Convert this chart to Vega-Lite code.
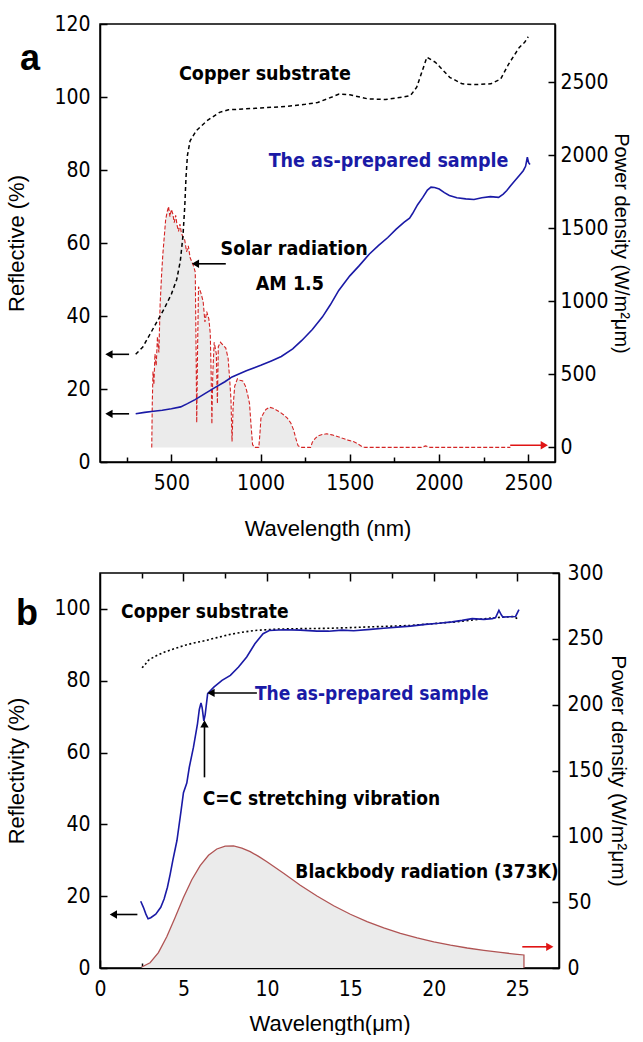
{
  "$schema": "https://vega.github.io/schema/vega-lite/v6.json",
  "padding": {"left": 5, "top": 12, "right": 3, "bottom": 0},
  "spacing": 21,
  "config": {
    "view": {"stroke": "black", "strokeWidth": 1.5},
    "axis": {
      "grid": false, "domainColor": "black", "domainWidth": 1.5, "tickColor": "black", "tickWidth": 1.5,
      "labelFont": "DejaVu Sans Condensed, Liberation Sans, sans-serif", "labelFontSize": 21, "labelColor": "black", "labelFlush": false, "labelOverlap": false,
      "titleFont": "Liberation Sans", "titleFontSize": 22, "titleFontWeight": "normal", "titleColor": "black"
    },
    "text": {"font": "DejaVu Sans Condensed, Liberation Sans, sans-serif", "fontWeight": "bold"}
  },
  "datasets": {
    "solarA": [
      {"w":390,"p":0},{"w":393,"p":300},{"w":397,"p":520},{"w":402,"p":430},{"w":408,"p":640},{"w":415,"p":560},{"w":422,"p":760},{"w":430,"p":650},{"w":437,"p":980},{"w":445,"p":1180},{"w":452,"p":1320},{"w":460,"p":1440},{"w":468,"p":1560},{"w":476,"p":1610},{"w":484,"p":1650},{"w":492,"p":1580},{"w":500,"p":1630},{"w":508,"p":1600},{"w":516,"p":1540},{"w":524,"p":1590},{"w":532,"p":1520},{"w":540,"p":1480},{"w":548,"p":1530},{"w":556,"p":1470},{"w":565,"p":1440},{"w":575,"p":1420},{"w":585,"p":1340},{"w":595,"p":1380},{"w":605,"p":1300},{"w":615,"p":1270},{"w":625,"p":1240},{"w":634,"p":1200},{"w":639,"p":600},{"w":642,"p":170},{"w":646,"p":600},{"w":652,"p":1100},{"w":665,"p":1060},{"w":678,"p":1000},{"w":688,"p":860},{"w":698,"p":930},{"w":710,"p":880},{"w":718,"p":780},{"w":723,"p":500},{"w":727,"p":160},{"w":732,"p":500},{"w":740,"p":720},{"w":752,"p":640},{"w":758,"p":300},{"w":763,"p":690},{"w":775,"p":720},{"w":790,"p":700},{"w":805,"p":680},{"w":818,"p":610},{"w":826,"p":480},{"w":834,"p":330},{"w":840,"p":40},{"w":846,"p":280},{"w":855,"p":420},{"w":870,"p":470},{"w":885,"p":460},{"w":900,"p":455},{"w":915,"p":420},{"w":928,"p":360},{"w":938,"p":300},{"w":946,"p":160},{"w":955,"p":20},{"w":965,"p":0},{"w":990,"p":0},{"w":996,"p":90},{"w":1002,"p":200},{"w":1015,"p":230},{"w":1030,"p":260},{"w":1050,"p":275},{"w":1070,"p":268},{"w":1090,"p":255},{"w":1110,"p":240},{"w":1130,"p":222},{"w":1150,"p":200},{"w":1170,"p":165},{"w":1185,"p":120},{"w":1198,"p":60},{"w":1210,"p":12},{"w":1225,"p":0},{"w":1280,"p":0},{"w":1290,"p":35},{"w":1305,"p":60},{"w":1320,"p":78},{"w":1345,"p":88},{"w":1370,"p":93},{"w":1400,"p":86},{"w":1430,"p":75},{"w":1460,"p":62},{"w":1490,"p":50},{"w":1520,"p":40},{"w":1545,"p":25},{"w":1565,"p":8},{"w":1585,"p":0},{"w":1900,"p":0},{"w":1925,"p":10},{"w":1950,"p":0},{"w":2400,"p":0}
    ],
    "copperA": [
      {"w":300,"r":29.5},{"w":340,"r":31.5},{"w":380,"r":35},{"w":420,"r":38.5},{"w":460,"r":42},{"w":500,"r":46},{"w":530,"r":50},{"w":550,"r":55},{"w":565,"r":62},{"w":575,"r":70},{"w":582,"r":78},{"w":590,"r":84},{"w":605,"r":88},{"w":640,"r":90.8},{"w":700,"r":93.5},{"w":770,"r":95.8},{"w":820,"r":96.5},{"w":900,"r":96.7},{"w":1000,"r":97},{"w":1140,"r":97.4},{"w":1250,"r":98},{"w":1320,"r":98.5},{"w":1400,"r":100},{"w":1440,"r":100.8},{"w":1500,"r":100.6},{"w":1600,"r":99.5},{"w":1700,"r":99.3},{"w":1800,"r":100},{"w":1840,"r":100.4},{"w":1875,"r":102.7},{"w":1905,"r":107},{"w":1932,"r":110.9},{"w":1980,"r":109.5},{"w":2060,"r":105.4},{"w":2130,"r":103.6},{"w":2200,"r":103.4},{"w":2290,"r":103.6},{"w":2345,"r":104.9},{"w":2390,"r":109},{"w":2450,"r":113.6},{"w":2480,"r":115},{"w":2500,"r":116.5}
    ],
    "sampleA": [
      {"w":300,"r":13.2},{"w":350,"r":13.6},{"w":400,"r":13.9},{"w":449,"r":14.2},{"w":500,"r":14.6},{"w":552,"r":15.1},{"w":590,"r":16},{"w":633,"r":17.1},{"w":690,"r":18.8},{"w":748,"r":20.5},{"w":800,"r":22},{"w":840,"r":23.3},{"w":920,"r":25},{"w":1001,"r":26.5},{"w":1060,"r":27.7},{"w":1116,"r":28.9},{"w":1180,"r":31},{"w":1231,"r":33.3},{"w":1290,"r":36.3},{"w":1346,"r":39.7},{"w":1390,"r":43},{"w":1438,"r":47},{"w":1500,"r":51},{"w":1553,"r":53.8},{"w":1610,"r":57},{"w":1660,"r":59.3},{"w":1713,"r":61.5},{"w":1760,"r":63.8},{"w":1805,"r":65.7},{"w":1835,"r":66.8},{"w":1851,"r":68},{"w":1880,"r":70.5},{"w":1909,"r":72.5},{"w":1935,"r":74.5},{"w":1955,"r":75.3},{"w":1975,"r":75.2},{"w":2001,"r":74.8},{"w":2030,"r":73.8},{"w":2058,"r":73},{"w":2100,"r":72.4},{"w":2150,"r":72.1},{"w":2196,"r":71.9},{"w":2240,"r":72.4},{"w":2288,"r":72.7},{"w":2334,"r":72.5},{"w":2360,"r":73.4},{"w":2380,"r":74.4},{"w":2400,"r":75.6},{"w":2426,"r":77.1},{"w":2450,"r":78.5},{"w":2472,"r":79.8},{"w":2485,"r":81},{"w":2495,"r":83.5},{"w":2502,"r":82},{"w":2510,"r":81.5}
    ],
    "textA": [
      {"x":1024,"y":106.3,"t":"Copper substrate","c":"k"},
      {"x":1717,"y":82.5,"t":"The as-prepared sample","c":"b"},
      {"x":1188,"y":58.4,"t":"Solar radiation","c":"k"},
      {"x":1164,"y":48.8,"t":"AM 1.5","c":"k"}
    ],
    "labelA": [{"x":-292,"y":110.4,"t":"a"}],
    "arrowsA": [
      {"x":263,"y":29.5,"x2":150,"y2":29.5,"c":"k","d":"left"},
      {"x":263,"y":13.2,"x2":150,"y2":13.2,"c":"k","d":"left"},
      {"x":805,"y":54.3,"x2":635,"y2":54.3,"c":"k","d":"left"},
      {"x":2399,"y":4.6,"x2":2590,"y2":4.6,"c":"r","d":"right"}
    ],
    "bbB": [
      {"w":2.5,"p":0.76},{"w":3,"p":4.0},{"w":3.5,"p":11.65},{"w":4,"p":23.7},{"w":4.5,"p":38.4},{"w":5,"p":53.5},{"w":5.5,"p":67.0},{"w":6,"p":77.8},{"w":6.5,"p":85.6},{"w":7,"p":90.4},{"w":7.5,"p":92.6},{"w":8,"p":92.7},{"w":8.5,"p":91.1},{"w":9,"p":88.4},{"w":9.5,"p":84.8},{"w":10,"p":80.7},{"w":11,"p":71.9},{"w":12,"p":62.9},{"w":13,"p":54.7},{"w":14,"p":47.3},{"w":15,"p":40.8},{"w":16,"p":35.2},{"w":17,"p":30.4},{"w":18,"p":26.3},{"w":19,"p":22.8},{"w":20,"p":19.9},{"w":21,"p":17.4},{"w":22,"p":15.2},{"w":23,"p":13.4},{"w":24,"p":11.8},{"w":25,"p":10.4},{"w":25.4,"p":9.9},{"w":25.4,"p":0}
    ],
    "copperB": [
      {"w":2.52,"r":83.6},{"w":2.7,"r":84.5},{"w":2.9,"r":85.7},{"w":3.3,"r":86.8},{"w":3.87,"r":88},{"w":4.5,"r":89},{"w":5.1,"r":89.9},{"w":5.7,"r":90.6},{"w":6.33,"r":91.2},{"w":7.0,"r":92},{"w":7.8,"r":92.9},{"w":8.5,"r":93.5},{"w":9.28,"r":94},{"w":10.75,"r":94.4},{"w":12,"r":94.5},{"w":13.7,"r":94.6},{"w":15,"r":94.8},{"w":16.2,"r":95},{"w":17.5,"r":95.2},{"w":18.6,"r":95.4},{"w":20,"r":95.9},{"w":21.1,"r":96.3},{"w":22.3,"r":96.9},{"w":23.5,"r":97.5},{"w":24.2,"r":97.7},{"w":24.8,"r":97.9},{"w":25.1,"r":97}
    ],
    "sampleB": [
      {"w":2.44,"r":18.6},{"w":2.6,"r":16.9},{"w":2.75,"r":15},{"w":2.88,"r":13.7},{"w":3.04,"r":14},{"w":3.34,"r":15},{"w":3.64,"r":16.9},{"w":3.84,"r":19.2},{"w":4.04,"r":22.5},{"w":4.2,"r":26},{"w":4.36,"r":29.9},{"w":4.61,"r":35.5},{"w":4.86,"r":43.9},{"w":5.0,"r":48.8},{"w":5.2,"r":51.5},{"w":5.35,"r":55.9},{"w":5.6,"r":61.5},{"w":5.84,"r":68},{"w":5.95,"r":72},{"w":6.05,"r":73.8},{"w":6.12,"r":72.5},{"w":6.22,"r":68.8},{"w":6.3,"r":70.5},{"w":6.45,"r":76.4},{"w":6.82,"r":78.2},{"w":7.31,"r":80.1},{"w":7.81,"r":81.5},{"w":8.3,"r":83.8},{"w":8.79,"r":86.6},{"w":9.28,"r":90.3},{"w":9.77,"r":93.1},{"w":10.14,"r":94},{"w":11,"r":94.2},{"w":12,"r":94.1},{"w":13,"r":93.8},{"w":13.7,"r":93.8},{"w":14.5,"r":94.1},{"w":15.2,"r":93.9},{"w":16.2,"r":94.3},{"w":17,"r":94.6},{"w":18,"r":95},{"w":18.6,"r":95.2},{"w":19.5,"r":95.7},{"w":20.3,"r":96},{"w":21.1,"r":96.4},{"w":21.7,"r":96.8},{"w":22.3,"r":97.3},{"w":23,"r":97.1},{"w":23.5,"r":97.3},{"w":23.7,"r":97.6},{"w":23.9,"r":99.6},{"w":24.05,"r":98.3},{"w":24.14,"r":97.7},{"w":24.5,"r":97.8},{"w":24.9,"r":97.9},{"w":25.1,"r":99.8}
    ],
    "textB": [
      {"x":6.28,"y":99.1,"t":"Copper substrate","c":"k"},
      {"x":16.28,"y":76.4,"t":"The as-prepared sample","c":"b"},
      {"x":13.27,"y":47.1,"t":"C=C stretching vibration","c":"k"},
      {"x":19.59,"y":26.6,"t":"Blackbody radiation (373K)","c":"k"}
    ],
    "labelB": [{"x":-4.37,"y":98.7,"t":"b"}],
    "arrowsB": [
      {"x":2.24,"y":14.9,"x2":0.8,"y2":14.9,"c":"k","d":"left"},
      {"x":9.4,"y":76.6,"x2":6.65,"y2":76.6,"c":"k","d":"left"},
      {"x":6.26,"y":53.1,"x2":6.26,"y2":68.0,"c":"k","d":"up"},
      {"x":25.3,"y":5.9,"x2":26.95,"y2":5.9,"c":"r","d":"right"}
    ]
  },
  "vconcat": [
    {
      "width": 455, "height": 438,
      "resolve": {"scale": {"y": "independent"}},
      "layer": [
        {
          "layer": [
            {
              "data": {"name": "solarA"},
              "mark": {"type": "area", "color": "#ebebeb"},
              "encoding": {
                "x": {"field": "w", "type": "quantitative", "scale": {"domain": [100, 2650], "nice": false, "zero": false}},
                "y": {"field": "p", "type": "quantitative", "scale": {"domain": [-100, 2900], "nice": false, "zero": false},
                  "axis": {"orient": "right", "title": "Power density (W/m²μm)", "titleFontSize": 20, "format": "d",
                    "values": [0,250,500,750,1000,1250,1500,1750,2000,2250,2500,2750],
                    "labelExpr": "datum.value % 500 === 0 ? datum.label : ''",
                    "tickSize": {"condition": {"test": "datum.value % 500 === 0", "value": -7}, "value": -4},
                    "labelPadding": 12, "titlePadding": 2}},
                "y2": {"datum": 0}
              }
            },
            {
              "data": {"name": "solarA"},
              "mark": {"type": "line", "color": "#d42424", "strokeWidth": 1.1, "strokeDash": [4, 2]},
              "encoding": {
                "x": {"field": "w", "type": "quantitative", "scale": {"domain": [100, 2650], "nice": false, "zero": false}},
                "y": {"field": "p", "type": "quantitative", "scale": {"domain": [-100, 2900], "nice": false, "zero": false}}
              }
            }
          ]
        },
        {
          "layer": [
            {
              "data": {"name": "copperA"},
              "mark": {"type": "line", "color": "black", "strokeWidth": 1.5, "strokeDash": [4, 3]},
              "encoding": {
                "x": {"field": "w", "type": "quantitative", "scale": {"domain": [100, 2650], "nice": false, "zero": false},
                  "axis": {"orient": "bottom", "title": "Wavelength (nm)", "format": "d",
                    "values": [250,500,750,1000,1250,1500,1750,2000,2250,2500],
                    "labelExpr": "datum.value % 500 === 0 ? datum.label : ''",
                    "tickSize": {"condition": {"test": "datum.value % 500 === 0", "value": -8}, "value": -5},
                    "labelPadding": 18, "titlePadding": 22}},
                "y": {"field": "r", "type": "quantitative", "scale": {"domain": [0, 120], "nice": false, "zero": false},
                  "axis": {"orient": "left", "title": "Reflective (%)", "format": "d",
                    "values": [0,10,20,30,40,50,60,70,80,90,100,110,120],
                    "labelExpr": "datum.value % 20 === 0 ? datum.label : ''",
                    "tickSize": {"condition": {"test": "datum.value % 20 === 0", "value": -7}, "value": -4},
                    "labelPadding": 17, "titlePadding": 25}}
              }
            },
            {
              "data": {"name": "sampleA"},
              "mark": {"type": "line", "color": "#1a1aa6", "strokeWidth": 1.6},
              "encoding": {
                "x": {"field": "w", "type": "quantitative", "scale": {"domain": [100, 2650], "nice": false, "zero": false}},
                "y": {"field": "r", "type": "quantitative", "scale": {"domain": [0, 120], "nice": false, "zero": false}}
              }
            },
            {
              "data": {"name": "arrowsA"},
              "mark": {"type": "rule", "strokeWidth": 1.6},
              "encoding": {
                "x": {"field": "x", "type": "quantitative", "scale": {"domain": [100, 2650], "nice": false, "zero": false}},
                "x2": {"field": "x2"},
                "y": {"field": "y", "type": "quantitative", "scale": {"domain": [0, 120], "nice": false, "zero": false}},
                "y2": {"field": "y2"},
                "color": {"field": "c", "type": "nominal", "scale": {"domain": ["k", "b", "r"], "range": ["black", "#1a1aa6", "#e01414"]}, "legend": null}
              }
            },
            {
              "data": {"name": "arrowsA"},
              "mark": {"type": "point", "filled": true, "opacity": 1, "size": 70},
              "encoding": {
                "x": {"field": "x2", "type": "quantitative", "scale": {"domain": [100, 2650], "nice": false, "zero": false}},
                "y": {"field": "y2", "type": "quantitative", "scale": {"domain": [0, 120], "nice": false, "zero": false}},
                "shape": {"field": "d", "type": "nominal", "scale": {"domain": ["left", "right", "up"], "range": ["triangle-left", "triangle-right", "triangle-up"]}, "legend": null},
                "color": {"field": "c", "type": "nominal", "scale": {"domain": ["k", "b", "r"], "range": ["black", "#1a1aa6", "#e01414"]}, "legend": null}
              }
            },
            {
              "data": {"name": "textA"},
              "mark": {"type": "text", "fontSize": 19.5, "align": "center", "baseline": "middle"},
              "encoding": {
                "x": {"field": "x", "type": "quantitative", "scale": {"domain": [100, 2650], "nice": false, "zero": false}},
                "y": {"field": "y", "type": "quantitative", "scale": {"domain": [0, 120], "nice": false, "zero": false}},
                "text": {"field": "t"},
                "color": {"field": "c", "type": "nominal", "scale": {"domain": ["k", "b", "r"], "range": ["black", "#1a1aa6", "#e01414"]}, "legend": null}
              }
            },
            {
              "data": {"name": "labelA"},
              "mark": {"type": "text", "font": "Liberation Sans", "fontSize": 36, "align": "center", "baseline": "middle", "color": "black"},
              "encoding": {
                "x": {"field": "x", "type": "quantitative", "scale": {"domain": [100, 2650], "nice": false, "zero": false}},
                "y": {"field": "y", "type": "quantitative", "scale": {"domain": [0, 120], "nice": false, "zero": false}},
                "text": {"field": "t"}
              }
            }
          ]
        }
      ]
    },
    {
      "width": 459, "height": 395,
      "resolve": {"scale": {"y": "independent"}, "axis": {"x": "independent"}},
      "layer": [
        {
          "layer": [
            {
              "data": {"name": "bbB"},
              "mark": {"type": "area", "color": "#ebebeb"},
              "encoding": {
                "x": {"field": "w", "type": "quantitative", "scale": {"domain": [0, 27.5], "nice": false, "zero": false},
                  "axis": {"orient": "top", "title": null, "labels": false, "domain": false,
                    "values": [2.5,5,7.5,10,12.5,15,17.5,20,22.5,25],
                    "tickSize": {"condition": {"test": "datum.value % 5 === 0", "value": -8}, "value": -5}}},
                "y": {"field": "p", "type": "quantitative", "scale": {"domain": [0, 300], "nice": false, "zero": false},
                  "axis": {"orient": "right", "title": "Power density (W/m²μm)", "titleFontSize": 21, "format": "d",
                    "values": [0,25,50,75,100,125,150,175,200,225,250,275,300],
                    "labelExpr": "datum.value % 50 === 0 ? datum.label : ''",
                    "tickSize": {"condition": {"test": "datum.value % 50 === 0", "value": -7}, "value": -4},
                    "labelPadding": 15, "titlePadding": 4}},
                "y2": {"datum": 0}
              }
            },
            {
              "data": {"name": "bbB"},
              "mark": {"type": "line", "color": "#b05454", "strokeWidth": 1.3},
              "encoding": {
                "x": {"field": "w", "type": "quantitative", "scale": {"domain": [0, 27.5], "nice": false, "zero": false}},
                "y": {"field": "p", "type": "quantitative", "scale": {"domain": [0, 300], "nice": false, "zero": false}}
              }
            }
          ]
        },
        {
          "layer": [
            {
              "data": {"name": "copperB"},
              "mark": {"type": "line", "color": "black", "strokeWidth": 1.6, "strokeDash": [2, 2.5]},
              "encoding": {
                "x": {"field": "w", "type": "quantitative", "scale": {"domain": [0, 27.5], "nice": false, "zero": false},
                  "axis": {"orient": "bottom", "title": "Wavelength(μm)", "format": "d",
                    "values": [0,2.5,5,7.5,10,12.5,15,17.5,20,22.5,25],
                    "labelExpr": "datum.value % 5 === 0 ? datum.label : ''",
                    "tickSize": {"condition": {"test": "datum.value % 5 === 0", "value": -8}, "value": -5},
                    "labelPadding": 18, "titlePadding": 11}},
                "y": {"field": "r", "type": "quantitative", "scale": {"domain": [0, 110], "nice": false, "zero": false},
                  "axis": {"orient": "left", "title": "Reflectivity (%)", "format": "d",
                    "values": [0,10,20,30,40,50,60,70,80,90,100],
                    "labelExpr": "datum.value % 20 === 0 ? datum.label : ''",
                    "tickSize": {"condition": {"test": "datum.value % 20 === 0", "value": -7}, "value": -4},
                    "labelPadding": 17, "titlePadding": 25}}
              }
            },
            {
              "data": {"name": "sampleB"},
              "mark": {"type": "line", "color": "#1a1aa6", "strokeWidth": 1.6},
              "encoding": {
                "x": {"field": "w", "type": "quantitative", "scale": {"domain": [0, 27.5], "nice": false, "zero": false}},
                "y": {"field": "r", "type": "quantitative", "scale": {"domain": [0, 110], "nice": false, "zero": false}}
              }
            },
            {
              "data": {"name": "arrowsB"},
              "mark": {"type": "rule", "strokeWidth": 1.6},
              "encoding": {
                "x": {"field": "x", "type": "quantitative", "scale": {"domain": [0, 27.5], "nice": false, "zero": false}},
                "x2": {"field": "x2"},
                "y": {"field": "y", "type": "quantitative", "scale": {"domain": [0, 110], "nice": false, "zero": false}},
                "y2": {"field": "y2"},
                "color": {"field": "c", "type": "nominal", "scale": {"domain": ["k", "b", "r"], "range": ["black", "#1a1aa6", "#e01414"]}, "legend": null}
              }
            },
            {
              "data": {"name": "arrowsB"},
              "mark": {"type": "point", "filled": true, "opacity": 1, "size": 70},
              "encoding": {
                "x": {"field": "x2", "type": "quantitative", "scale": {"domain": [0, 27.5], "nice": false, "zero": false}},
                "y": {"field": "y2", "type": "quantitative", "scale": {"domain": [0, 110], "nice": false, "zero": false}},
                "shape": {"field": "d", "type": "nominal", "scale": {"domain": ["left", "right", "up"], "range": ["triangle-left", "triangle-right", "triangle-up"]}, "legend": null},
                "color": {"field": "c", "type": "nominal", "scale": {"domain": ["k", "b", "r"], "range": ["black", "#1a1aa6", "#e01414"]}, "legend": null}
              }
            },
            {
              "data": {"name": "textB"},
              "mark": {"type": "text", "fontSize": 19, "align": "center", "baseline": "middle"},
              "encoding": {
                "x": {"field": "x", "type": "quantitative", "scale": {"domain": [0, 27.5], "nice": false, "zero": false}},
                "y": {"field": "y", "type": "quantitative", "scale": {"domain": [0, 110], "nice": false, "zero": false}},
                "text": {"field": "t"},
                "color": {"field": "c", "type": "nominal", "scale": {"domain": ["k", "b", "r"], "range": ["black", "#1a1aa6", "#e01414"]}, "legend": null}
              }
            },
            {
              "data": {"name": "labelB"},
              "mark": {"type": "text", "font": "Liberation Sans", "fontSize": 36, "align": "center", "baseline": "middle", "color": "black"},
              "encoding": {
                "x": {"field": "x", "type": "quantitative", "scale": {"domain": [0, 27.5], "nice": false, "zero": false}},
                "y": {"field": "y", "type": "quantitative", "scale": {"domain": [0, 110], "nice": false, "zero": false}},
                "text": {"field": "t"}
              }
            }
          ]
        }
      ]
    }
  ]
}
